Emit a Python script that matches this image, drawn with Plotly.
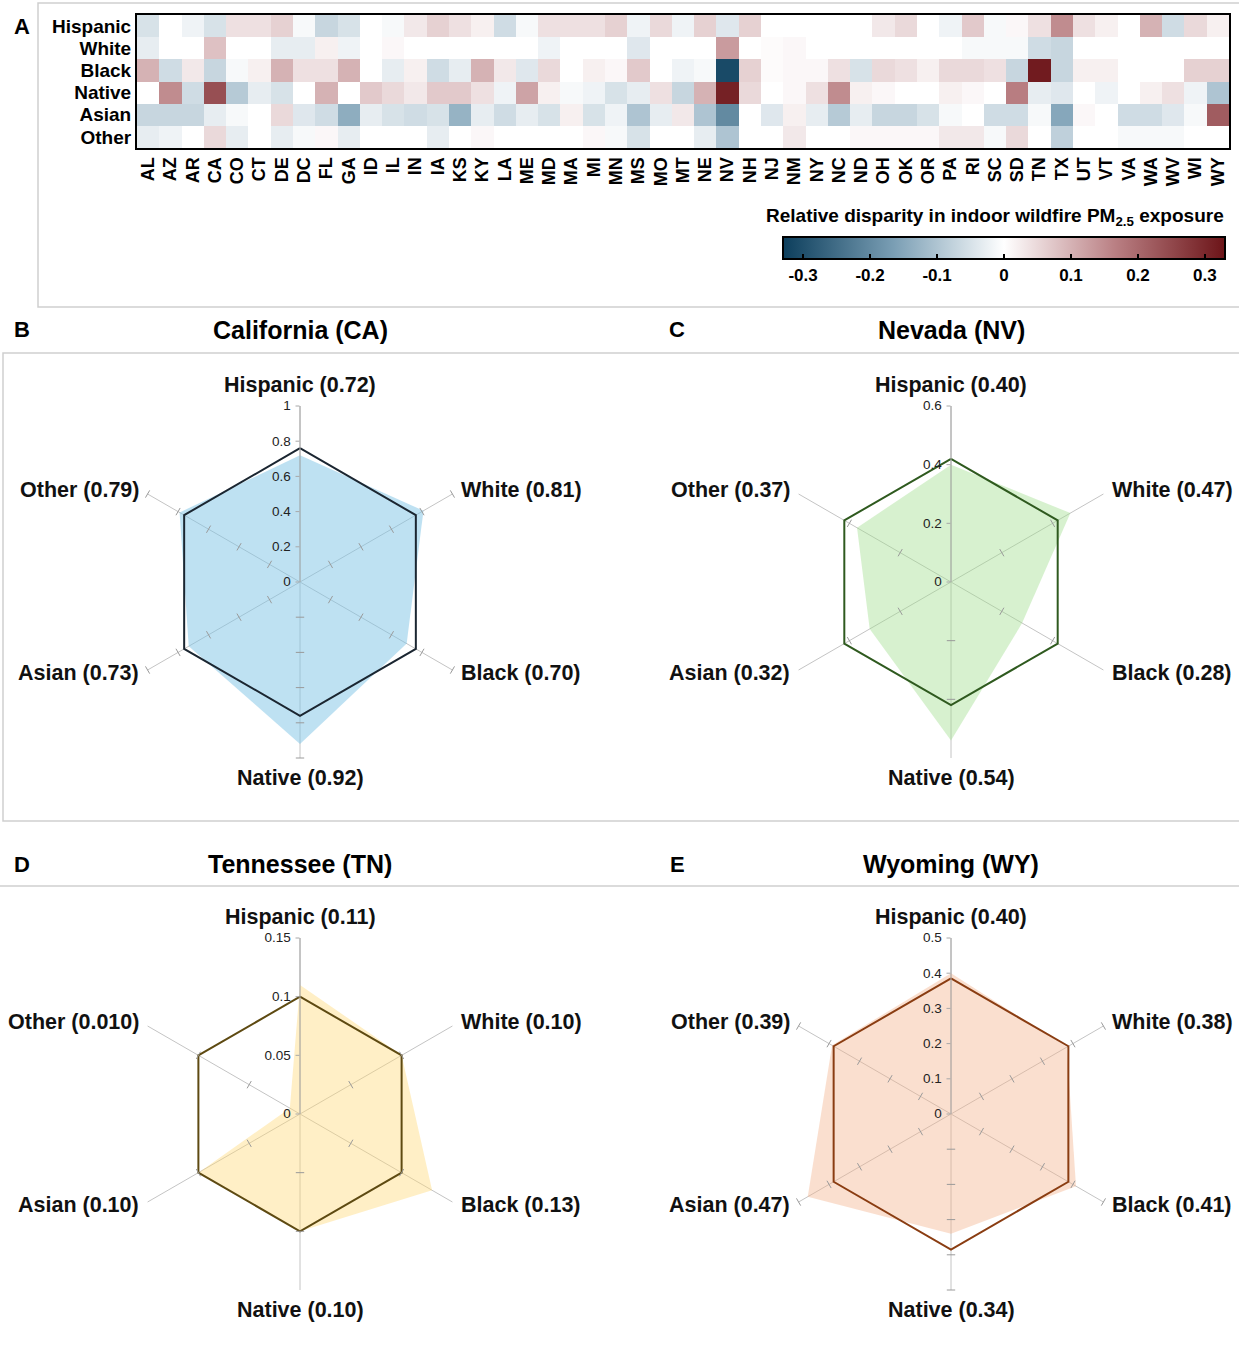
import plotly.graph_objects as go

W, H = 1239, 1347
FONT = "Liberation Sans, Arial, Helvetica, sans-serif"


def X(px):
    return px / W


def Y(py):
    return 1 - py / H


# ---------------- Panel A: relative disparity heatmap ----------------
states = ["AL", "AZ", "AR", "CA", "CO", "CT", "DE", "DC", "FL", "GA", "ID", "IL", "IN",
          "IA", "KS", "KY", "LA", "ME", "MD", "MA", "MI", "MN", "MS", "MO", "MT", "NE",
          "NV", "NH", "NJ", "NM", "NY", "NC", "ND", "OH", "OK", "OR", "PA", "RI", "SC",
          "SD", "TN", "TX", "UT", "VT", "VA", "WA", "WV", "WI", "WY"]
groups = ["Hispanic", "White", "Black", "Native", "Asian", "Other"]

hispanic_disp = [-0.05, 0.00, -0.02, -0.05, 0.04, 0.04, 0.06, -0.01, -0.07, -0.05, 0.00, -0.01, 0.03,
                 0.06, 0.04, 0.02, -0.06, -0.01, 0.04, 0.04, 0.04, 0.06, -0.02, 0.05, -0.02, 0.06,
                 -0.04, 0.06, 0.00, 0.00, 0.00, 0.00, 0.00, 0.03, 0.05, 0.00, -0.02, 0.07, -0.01,
                 0.01, 0.04, 0.15, 0.04, 0.02, 0.00, 0.10, -0.06, 0.05, 0.02]
white_disp = [-0.03, 0.00, 0.00, 0.08, 0.00, 0.00, -0.03, -0.03, 0.02, -0.02, 0.00, 0.01, 0.00,
              0.00, 0.00, 0.00, 0.00, 0.00, -0.02, 0.00, 0.00, 0.00, -0.04, 0.00, 0.00, 0.00,
              0.13, 0.00, 0.005, 0.01, 0.00, 0.00, 0.00, 0.00, 0.00, 0.00, 0.00, -0.01, -0.01,
              -0.01, -0.06, -0.07, 0.00, 0.00, 0.00, 0.00, 0.00, 0.00, 0.00]
black_disp = [0.10, -0.06, 0.03, -0.07, -0.01, 0.02, 0.10, 0.04, 0.04, 0.10, 0.00, -0.03, 0.02,
              -0.06, -0.03, 0.10, 0.03, -0.04, 0.05, 0.00, 0.02, 0.01, 0.07, 0.00, -0.02, -0.01,
              -0.31, 0.06, 0.005, 0.01, 0.01, 0.04, -0.05, 0.05, 0.04, 0.02, 0.05, 0.05, 0.04,
              -0.07, 0.32, -0.07, 0.02, 0.02, 0.00, 0.00, 0.00, 0.06, 0.06]
native_disp = [0.00, 0.15, -0.06, 0.24, -0.09, -0.03, -0.05, 0.00, 0.10, 0.00, 0.07, 0.05, 0.03,
               0.07, 0.07, 0.04, -0.02, 0.12, 0.02, -0.01, -0.02, -0.05, -0.03, 0.04, -0.07, 0.10,
               0.31, 0.05, 0.00, 0.01, 0.04, 0.15, 0.02, 0.01, 0.00, 0.00, 0.02, 0.01, 0.00,
               0.17, -0.03, -0.04, 0.00, -0.02, 0.00, 0.02, 0.04, -0.02, -0.10]
asian_disp = [-0.07, -0.07, -0.07, -0.03, -0.01, 0.00, 0.05, -0.04, -0.06, -0.14, -0.03, -0.05, -0.06,
              -0.05, -0.13, -0.03, -0.06, -0.03, -0.05, 0.02, -0.05, -0.02, -0.10, -0.03, 0.03, -0.10,
              -0.20, 0.00, -0.04, 0.02, -0.03, -0.09, -0.03, -0.07, -0.07, -0.05, -0.01, 0.00, -0.06,
              -0.06, -0.01, -0.15, 0.01, 0.00, -0.06, -0.06, -0.04, -0.01, 0.22]
other_disp = [-0.03, -0.02, 0.00, 0.05, -0.03, 0.00, -0.03, -0.01, 0.01, -0.03, 0.00, 0.00, 0.00,
              -0.03, 0.00, 0.01, 0.00, 0.00, 0.00, 0.00, 0.01, -0.01, -0.05, 0.00, 0.00, -0.03,
              -0.10, 0.00, 0.00, 0.03, 0.00, 0.00, 0.01, 0.01, 0.01, 0.01, 0.03, 0.03, -0.01,
              0.05, 0.00, -0.08, 0.00, 0.00, -0.01, -0.01, -0.01, 0.00, 0.00]

cbar_ticks = [-0.3, -0.2, -0.1, 0, 0.1, 0.2, 0.3]
cbar_labels = ["-0.3", "-0.2", "-0.1", "0", "0.1", "0.2", "0.3"]

# ---------------- Panels B-E: state radar charts ----------------
radar_groups = ["Hispanic", "White", "Black", "Native", "Asian", "Other"]

ca_values = [0.72, 0.81, 0.70, 0.92, 0.73, 0.79]
nv_values = [0.40, 0.47, 0.28, 0.54, 0.32, 0.37]
tn_values = [0.11, 0.10, 0.13, 0.10, 0.10, 0.010]
wy_values = [0.40, 0.38, 0.41, 0.34, 0.47, 0.39]

# state-wide reference level drawn as the regular hexagon
ca_overall = 0.76
nv_overall = 0.42
tn_overall = 0.10
wy_overall = 0.385

fig = go.Figure()

diverging = [
    [0.0, "rgb(12,62,92)"],
    [0.25, "rgb(122,158,180)"],
    [0.5, "rgb(255,255,255)"],
    [0.75, "rgb(186,128,132)"],
    [1.0, "rgb(108,20,24)"],
]

fig.add_trace(go.Heatmap(
    z=[hispanic_disp, white_disp, black_disp, native_disp, asian_disp, other_disp],
    x=states, y=groups,
    colorscale=diverging, zmin=-0.33, zmax=0.33,
    xaxis="x", yaxis="y",
    hovertemplate="%{y}, %{x}: %{z}<extra></extra>",
    colorbar=dict(
        orientation="h",
        x=X(1004), xanchor="center",
        y=Y(237), yanchor="top",
        len=442 / W, lenmode="fraction",
        thickness=22, thicknessmode="pixels",
        outlinewidth=2, outlinecolor="black",
        ticks="inside", ticklen=6, tickcolor="black", tickwidth=2,
        tickvals=cbar_ticks, ticktext=cbar_labels,
        tickfont=dict(family=FONT, size=17, color="black", weight="bold"),
        xpad=0, ypad=0,
    ),
))

fig.update_layout(
    xaxis=dict(domain=[X(137), X(1229)], anchor="y", tickangle=-90,
               tickmode="array", tickvals=states, ticktext=states,
               tickfont=dict(family=FONT, size=18, color="black", weight="bold"),
               showline=True, mirror=True, linewidth=2, linecolor="black",
               ticks="", showgrid=False, zeroline=False, fixedrange=True),
    yaxis=dict(domain=[Y(148), Y(15)], anchor="x", autorange="reversed",
               tickmode="array", tickvals=groups, ticktext=groups,
               tickfont=dict(family=FONT, size=19, color="black", weight="bold"),
               showline=True, mirror=True, linewidth=2, linecolor="black",
               ticks="", showgrid=False, zeroline=False, fixedrange=True),
)


def fmt(v):
    return f"{v:#.2g}"


radars = [
    dict(name="polar", values=ca_values, overall=ca_overall, rmax=1.0, dtick=0.2,
         fill="rgba(125,196,230,0.50)", line="#1b2631", cx=300, cy=582),
    dict(name="polar2", values=nv_values, overall=nv_overall, rmax=0.6, dtick=0.2,
         fill="rgba(160,222,140,0.42)", line="#2f5a1f", cx=951, cy=582),
    dict(name="polar3", values=tn_values, overall=tn_overall, rmax=0.15, dtick=0.05,
         fill="rgba(255,218,120,0.42)", line="#5e4a12", cx=300, cy=1114),
    dict(name="polar4", values=wy_values, overall=wy_overall, rmax=0.5, dtick=0.1,
         fill="rgba(242,178,140,0.42)", line="#8a3d12", cx=951, cy=1114),
]

R = 176
spoke_angles = [0, 60, 120, 180, 240, 300]
# label placement around each radar: (dx, dy, xanchor) relative to the centre, in px
label_offsets = [(0, -R - 21, "center"), (159, -92, "left"), (159, 91, "left"),
                 (0, R + 20, "center"), (-159, 91, "right"), (-159, -92, "right")]

annotations = []

for rd in radars:
    labels = [f"{g} ({fmt(v)})" for g, v in zip(radar_groups, rd["values"])]
    theta = labels + [labels[0]]
    fig.add_trace(go.Scatterpolar(
        r=rd["values"] + [rd["values"][0]], theta=theta, subplot=rd["name"],
        mode="lines", fill="toself", fillcolor=rd["fill"], line=dict(width=0),
        hoverinfo="skip", showlegend=False,
    ))
    fig.add_trace(go.Scatterpolar(
        r=[rd["overall"]] * 7, theta=theta, subplot=rd["name"],
        mode="lines", line=dict(color=rd["line"], width=2),
        hoverinfo="skip", showlegend=False,
    ))
    # small tick marks along the other five spokes
    n = int(round(rd["rmax"] / rd["dtick"]))
    tr, tt, ta = [], [], []
    for lab, ang in zip(labels[1:], spoke_angles[1:]):
        for k in range(1, n + 1):
            tr.append(k * rd["dtick"])
            tt.append(lab)
            ta.append(ang)
    fig.add_trace(go.Scatterpolar(
        r=tr, theta=tt, subplot=rd["name"], mode="markers",
        marker=dict(symbol="line-ew", size=6, angle=ta,
                    line=dict(color="#9a9a9a", width=1)),
        hoverinfo="skip", showlegend=False,
    ))
    fig.layout[rd["name"]] = dict(
        domain=dict(x=[X(rd["cx"] - R), X(rd["cx"] + R)],
                    y=[Y(rd["cy"] + R), Y(rd["cy"] - R)]),
        gridshape="linear",
        bgcolor="rgba(0,0,0,0)",
        radialaxis=dict(range=[0, rd["rmax"]], dtick=rd["dtick"], angle=90,
                        side="counterclockwise", tickangle=90,
                        showgrid=False, showline=True, linecolor="#a8a8a8", linewidth=1,
                        ticks="outside", ticklen=4, tickcolor="#a8a8a8",
                        tickfont=dict(family=FONT, size=13.5, color="#222222"),
                        layer="above traces"),
        angularaxis=dict(rotation=90, direction="clockwise", categoryorder="array",
                         categoryarray=labels, showticklabels=False,
                         showline=False, showgrid=True, gridcolor="#c4c4c4", gridwidth=1,
                         ticks="", layer="above traces"),
    )
    for lab, (dx, dy, xa) in zip(labels, label_offsets):
        annotations.append(dict(text=lab, x=X(rd["cx"] + dx), y=Y(rd["cy"] + dy),
                                xref="paper", yref="paper", showarrow=False,
                                xanchor=xa, yanchor="middle",
                                font=dict(family=FONT, size=21.5, color="#111111",
                                          weight="bold")))

# panel letters and titles
for letter, px, py in [("A", 22, 27), ("B", 22, 330), ("C", 677, 330),
                       ("D", 22, 864), ("E", 677, 864)]:
    annotations.append(dict(text=letter, x=X(px), y=Y(py), xref="paper", yref="paper",
                            showarrow=False, xanchor="center", yanchor="middle",
                            font=dict(family=FONT, size=22, color="black", weight="bold")))
for title, px, py in [("California (CA)", 300, 330), ("Nevada (NV)", 951, 330),
                      ("Tennessee (TN)", 300, 864), ("Wyoming (WY)", 951, 864)]:
    annotations.append(dict(text=title, x=X(px), y=Y(py), xref="paper", yref="paper",
                            showarrow=False, xanchor="center", yanchor="middle",
                            font=dict(family=FONT, size=25, color="black", weight="bold")))
annotations.append(dict(text="Relative disparity in indoor wildfire PM<sub>2.5</sub> exposure",
                        x=X(1226), y=Y(217), xref="paper", yref="paper", showarrow=False,
                        xanchor="right", yanchor="middle",
                        font=dict(family=FONT, size=19, color="black", weight="bold")))

# light panel frames
frame = dict(color="#cfcfcf", width=1.5)
shapes = [
    dict(type="rect", xref="paper", yref="paper", x0=X(38), x1=X(1250), y0=Y(307), y1=Y(3), line=frame),
    dict(type="rect", xref="paper", yref="paper", x0=X(3), x1=X(1250), y0=Y(821), y1=Y(353), line=frame),
    dict(type="line", xref="paper", yref="paper", x0=0, x1=1, y0=Y(886), y1=Y(886), line=frame),
]

fig.update_layout(
    width=W, height=H,
    margin=dict(l=0, r=0, t=0, b=0),
    paper_bgcolor="white", plot_bgcolor="white",
    font=dict(family=FONT, color="black"),
    showlegend=False,
    annotations=annotations,
    shapes=shapes,
)

fig.write_html("out.html")
